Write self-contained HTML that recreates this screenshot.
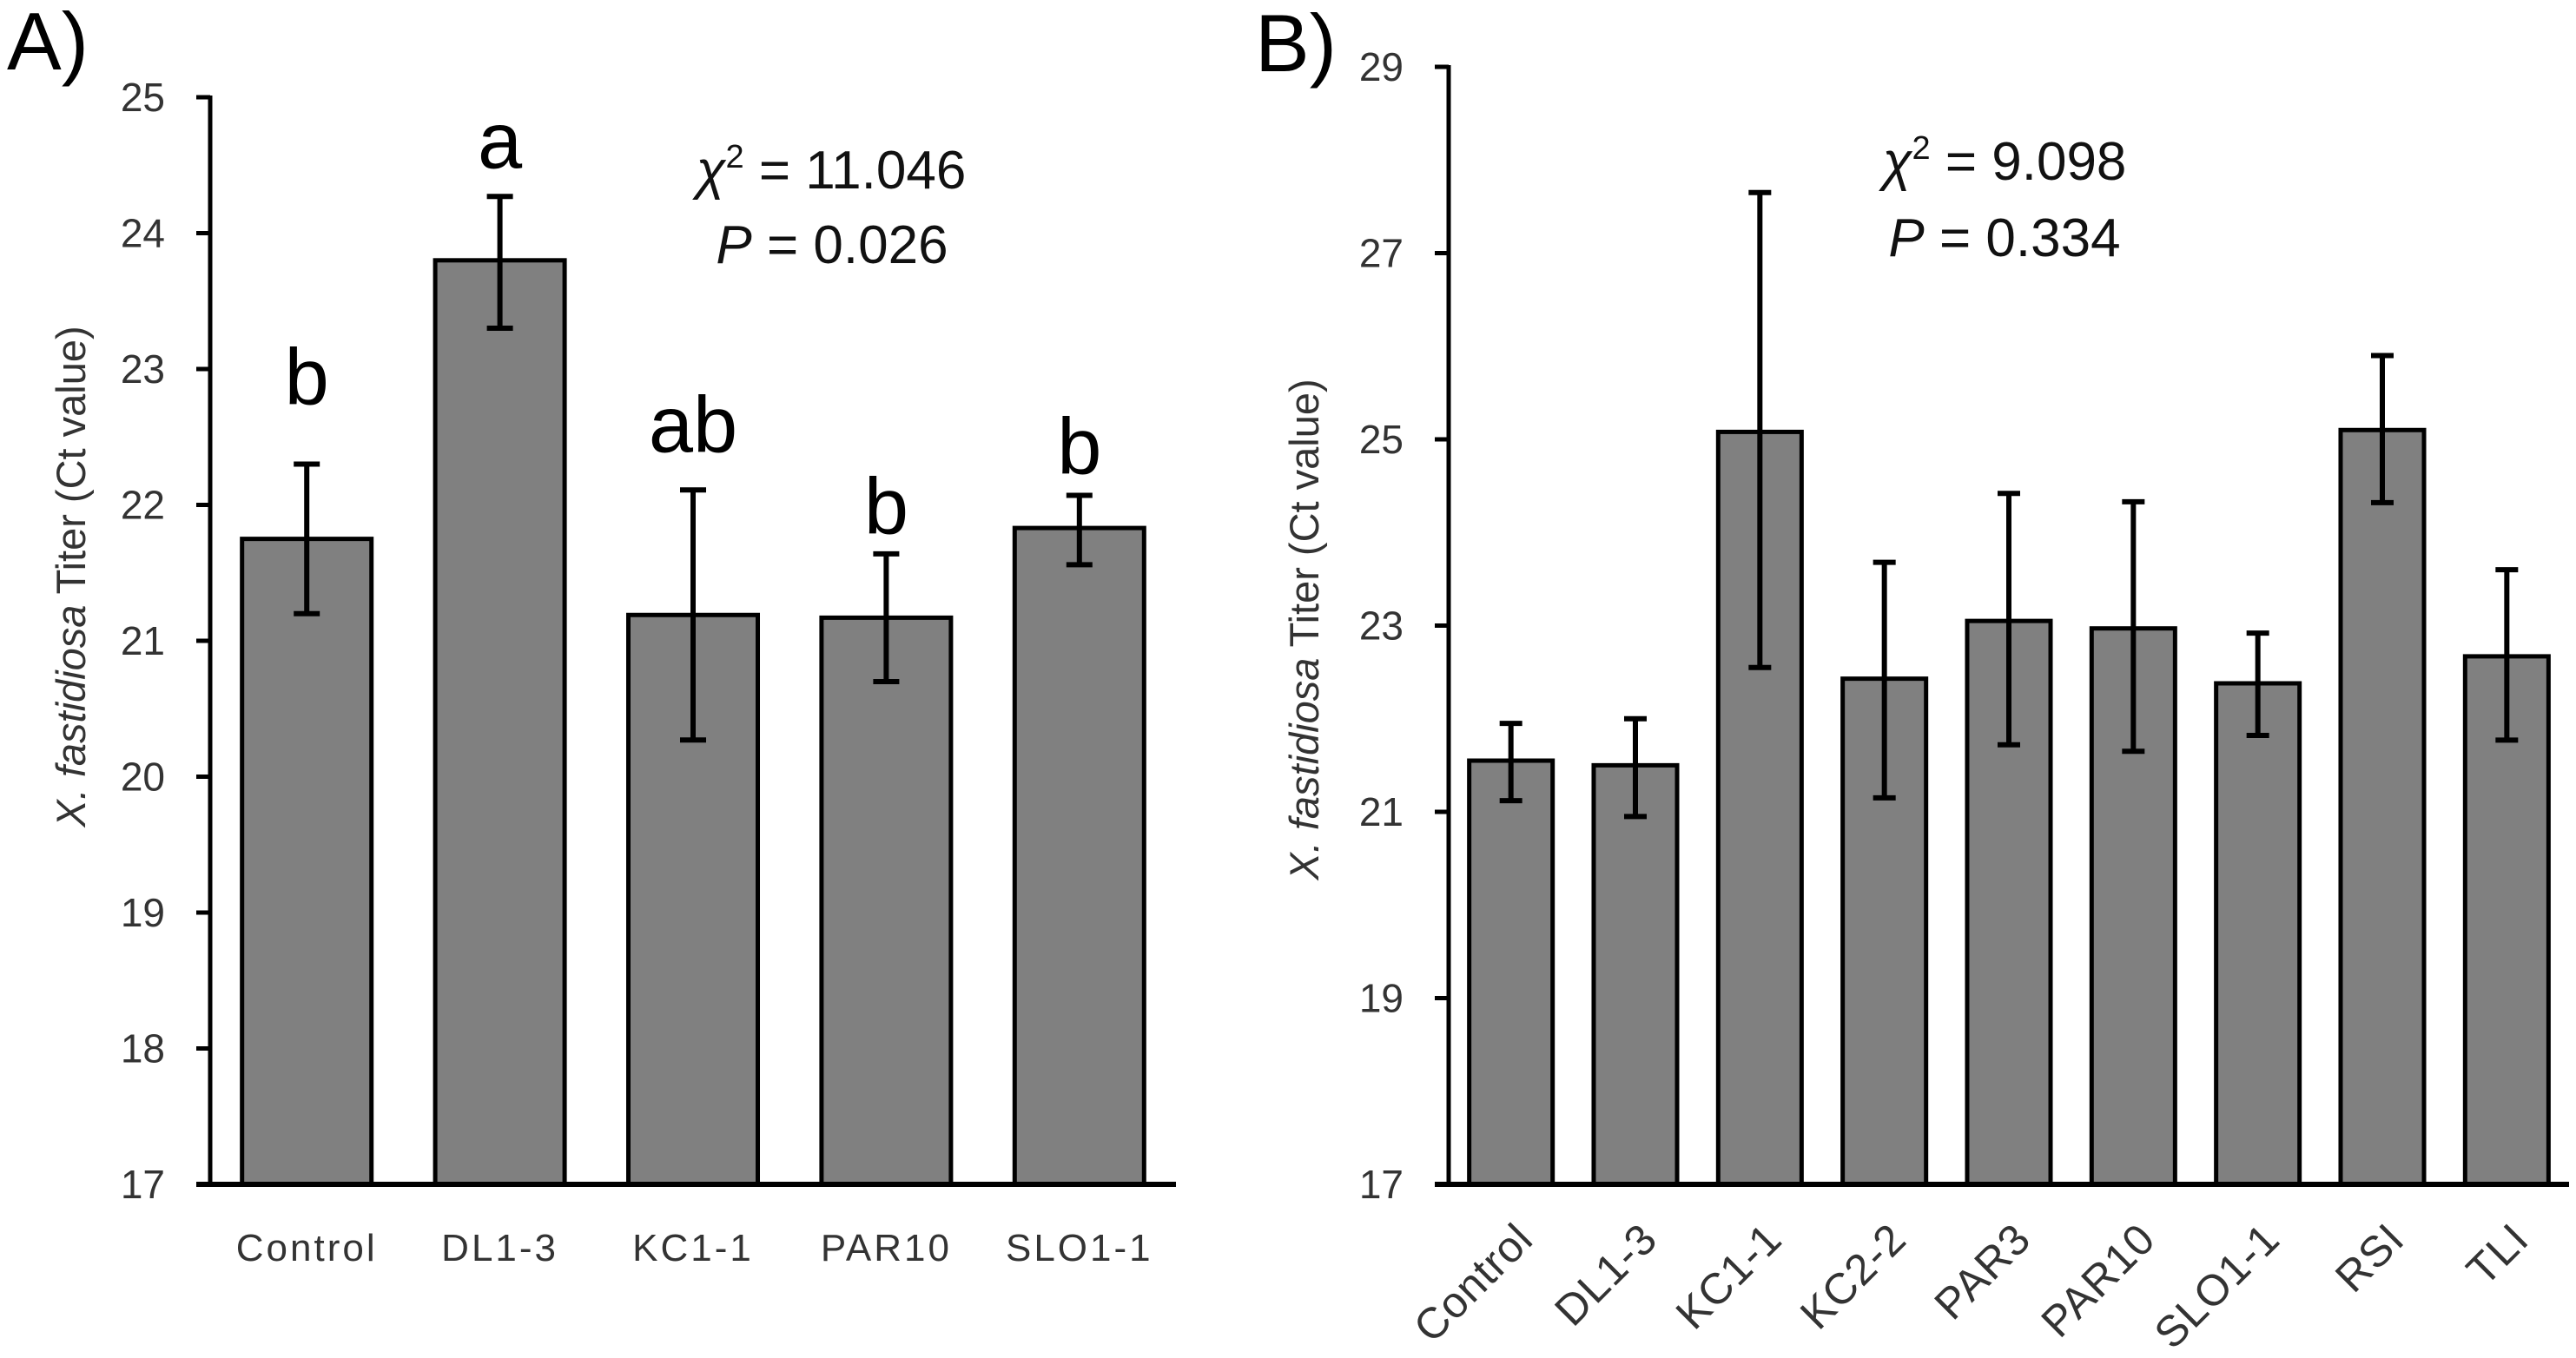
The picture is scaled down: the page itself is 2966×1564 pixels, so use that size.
<!DOCTYPE html>
<html><head><meta charset="utf-8"><style>
html,body{margin:0;padding:0;background:#fff;}
svg{display:block;font-family:"Liberation Sans",sans-serif;}
</style></head><body>
<svg id="fig" width="2966" height="1564" viewBox="0 0 2966 1564" xmlns="http://www.w3.org/2000/svg">
<text x="8" y="80" font-size="94" fill="#000">A)</text>
<text x="1445" y="82" font-size="94" fill="#000">B)</text>
<g id="pa"></g>
<g id="pb"></g>
<text transform="translate(98,664) rotate(-90)" text-anchor="middle" font-size="47" fill="#333"><tspan font-style="italic">X. fastidiosa</tspan> Titer (Ct value)</text>
<text transform="translate(1518,725) rotate(-90)" text-anchor="middle" font-size="47" fill="#333"><tspan font-style="italic">X. fastidiosa</tspan> Titer (Ct value)</text>
<text x="957" y="217" text-anchor="middle" font-size="62" fill="#111"><tspan font-style="italic">χ</tspan><tspan dy="-24" font-size="38">2</tspan><tspan dy="24"> = 11.046</tspan></text>
<text x="958" y="303" text-anchor="middle" font-size="62" fill="#111"><tspan font-style="italic">P</tspan> = 0.026</text>
<text x="2308" y="207" text-anchor="middle" font-size="62" fill="#111"><tspan font-style="italic">χ</tspan><tspan dy="-24" font-size="38">2</tspan><tspan dy="24"> = 9.098</tspan></text>
<text x="2308" y="295" text-anchor="middle" font-size="62" fill="#111"><tspan font-style="italic">P</tspan> = 0.334</text>
</svg>
<script>
const aCategories = ["Control","DL1-3","KC1-1","PAR10","SLO1-1"];
const aMeans = [21.75,23.80,21.19,21.17,21.83];
const aErrHigh = [22.30,24.27,22.11,21.64,22.07];
const aErrLow = [21.20,23.30,20.27,20.70,21.56];
const aLetters = ["b","a","ab","b","b"];
const aLetterLevels = [22.74,24.48,22.39,21.79,22.23];
const aTicks = [17,18,19,20,21,22,23,24,25];

const bCategories = ["Control","DL1-3","KC1-1","KC2-2","PAR3","PAR10","SLO1-1","RSI","TLI"];
const bMeans = [21.55,21.50,25.08,22.43,23.05,22.97,22.38,25.10,22.67];
const bErrHigh = [21.95,22.00,27.65,23.68,24.42,24.33,22.92,25.90,23.60];
const bErrLow = [21.12,20.95,22.55,21.15,21.72,21.65,21.82,24.32,21.77];
const bTicks = [17,19,21,23,25,27,29];

const NS = "http://www.w3.org/2000/svg";
function mk(parent, tag, attrs){
  const e = document.createElementNS(NS, tag);
  for (const k in attrs) e.setAttribute(k, attrs[k]);
  parent.appendChild(e);
  return e;
}
function drawPanel(g, cfg){
  const yScale = v => cfg.yBottom - (v - cfg.yMin) / (cfg.yMax - cfg.yMin) * (cfg.yBottom - cfg.yTop);
  const band = (cfg.xRight - cfg.xLeft) / cfg.cats.length;
  const xCenter = i => cfg.xLeft + band * (i + 0.5);
  const bw = band * 0.67;
  cfg.cats.forEach((c, i) => {
    const y = yScale(cfg.means[i]);
    const r = mk(g, "rect", {x: xCenter(i) - bw/2, y: y, width: bw, height: cfg.yBottom - y, fill: "#808080", stroke: "#000", "stroke-width": 5});
    
    
    const eg = mk(g, "g", {stroke: "#000", "stroke-width": 6});
    
    
    const yh = yScale(cfg.hi[i]), yl = yScale(cfg.lo[i]), cx = xCenter(i);
    mk(eg, "line", {x1: cx, x2: cx, y1: yh, y2: yl});
    mk(eg, "line", {x1: cx - cfg.cap, x2: cx + cfg.cap, y1: yh, y2: yh});
    mk(eg, "line", {x1: cx - cfg.cap, x2: cx + cfg.cap, y1: yl, y2: yl});
    let t;
    if (cfg.rotate) {
      const px = cx + 28, py = cfg.yBottom + 66;
      t = mk(g, "text", {x: px, y: py, "text-anchor": "end", "font-size": 50, fill: "#333", transform: "rotate(-45 " + px + " " + py + ")", "letter-spacing": "1"});
    } else {
      t = mk(g, "text", {x: cx, y: cfg.yBottom + 88, "text-anchor": "middle", "font-size": 44, fill: "#333", "letter-spacing": "3"});
    }
    t.textContent = c;
    
    
    if (cfg.letters) {
      const lt = mk(g, "text", {x: cx, y: yScale(cfg.letterLevels[i]), "text-anchor": "middle", "font-size": 92, fill: "#000"});
      lt.textContent = cfg.letters[i];
      
      
    }
  });
  const ya = mk(g, "line", {x1: cfg.xLeft, x2: cfg.xLeft, y1: cfg.yTop - 2, y2: cfg.yBottom + 2, stroke: "#000", "stroke-width": 5});
  
  
  const xa = mk(g, "line", {x1: cfg.xLeft - 16, x2: cfg.xRight, y1: cfg.yBottom, y2: cfg.yBottom, stroke: "#000", "stroke-width": 6});
  
  
  cfg.ticks.forEach(v => {
    const y = yScale(v);
    const tk = mk(g, "line", {x1: cfg.xLeft - 16, x2: cfg.xLeft, y1: y, y2: y, stroke: "#000", "stroke-width": 5});
    
    
    const tl = mk(g, "text", {x: cfg.xLeft - 52, y: y + 16, "text-anchor": "end", "font-size": 46, fill: "#333"});
    tl.textContent = v;
    
    
  });
}
drawPanel(document.getElementById("pa"), {cats: aCategories, means: aMeans, hi: aErrHigh, lo: aErrLow, letters: aLetters, letterLevels: aLetterLevels, ticks: aTicks, yMin: 17, yMax: 25, yTop: 112, yBottom: 1364, xLeft: 242, xRight: 1354, cap: 15, rotate: false});
drawPanel(document.getElementById("pb"), {cats: bCategories, means: bMeans, hi: bErrHigh, lo: bErrLow, letters: null, ticks: bTicks, yMin: 17, yMax: 29, yTop: 77, yBottom: 1364, xLeft: 1668, xRight: 2958, cap: 13, rotate: true});
</script>
</body></html>
